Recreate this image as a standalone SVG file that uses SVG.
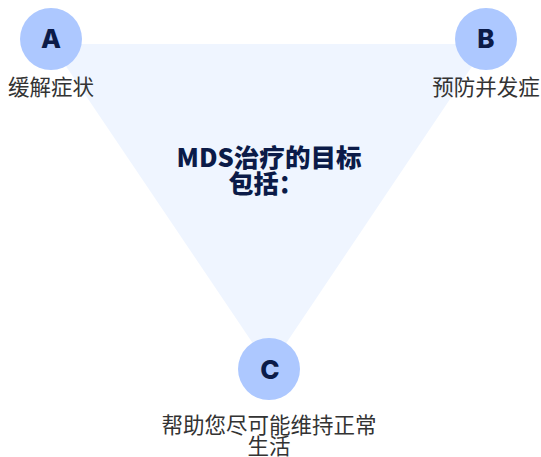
<svg xmlns="http://www.w3.org/2000/svg" width="541" height="457" viewBox="0 0 541 457">
<style>
.dot{fill:#adc8ff}
.letter{font-family:Inter,"Noto Sans",sans-serif;font-weight:800;font-size:26px;fill:#0b1b48;text-anchor:middle}
.lbl{font-family:"Noto Sans CJK SC","Noto Sans",sans-serif;font-size:21.5px;fill:#333333;text-anchor:middle}
.title{font-family:"Noto Sans CJK SC","Noto Sans",sans-serif;font-weight:900;font-size:25px;fill:#0b1b48;text-anchor:middle}
</style>
<rect width="541" height="457" fill="#ffffff"/>
<g id="connectors">
<polygon points="51,44 487,44 269.5,368" fill="#eff5ff"/>
</g>
<g id="center">
<text class="title" x="269" y="167" textLength="185" lengthAdjust="spacingAndGlyphs">MDS治疗的目标</text>
<text class="title" x="266" y="193">包括：</text>
</g>
<g id="nodeA">
<circle class="dot" cx="51" cy="39" r="31"/>
<text class="letter" x="51" y="48">A</text>
<text class="lbl" x="51" y="95">缓解症状</text>
</g>
<g id="nodeB">
<circle class="dot" cx="486" cy="39" r="31"/>
<text class="letter" x="486" y="48">B</text>
<text class="lbl" x="486" y="95">预防并发症</text>
</g>
<g id="nodeC">
<circle class="dot" cx="269" cy="369" r="31"/>
<text class="letter" x="270" y="378.5">C</text>
<text class="lbl" x="269" y="433">帮助您尽可能维持正常</text>
<text class="lbl" x="269" y="454">生活</text>
</g>
</svg>
